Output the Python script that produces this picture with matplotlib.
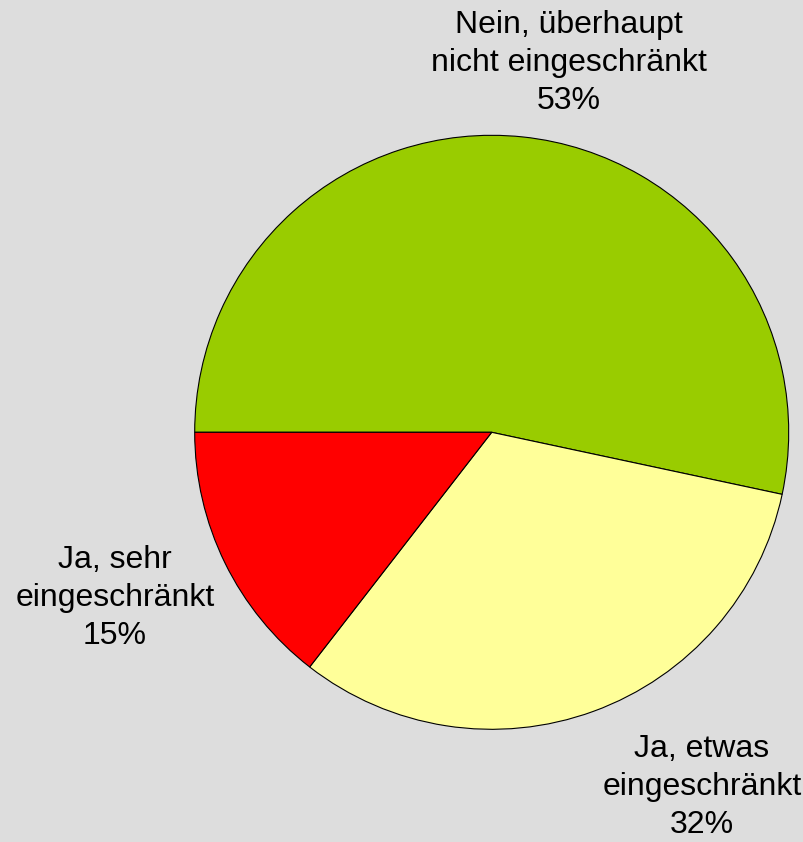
import matplotlib
matplotlib.use("Agg")
import matplotlib.pyplot as plt

categories = ["Nein, überhaupt\nnicht eingeschränkt", "Ja, etwas\neingeschränkt", "Ja, sehr\neingeschränkt"]
values = [53.35, 32.15, 14.5]
pct_labels = ["53%", "32%", "15%"]
colors = ["#99cc00", "#ffff99", "#ff0000"]

W, H = 804, 842
fig = plt.figure(figsize=(W / 100, H / 100), dpi=100)
fig.patch.set_facecolor("#dddddd")

cx, cy, r = 491.7, 432.3, 297
ax = fig.add_axes([(cx - r) / W, (H - cy - r) / H, 2 * r / W, 2 * r / H])
ax.pie(values, colors=colors, startangle=180, counterclock=False,
       wedgeprops=dict(edgecolor="black", linewidth=0.8))
ax.set_xlim(-1, 1)
ax.set_ylim(-1, 1)
ax.set_aspect("equal")
ax.axis("off")

label_pos = [(569, 63), (702, 787), (115, 598)]
for cat, p, (x, y) in zip(categories, pct_labels, label_pos):
    fig.text(x / W, 1 - y / H, f"{cat}\n{p}", ha="center", va="center",
             fontsize=23, family="Liberation Sans", linespacing=1.35, color="black")

fig.savefig("out.png", dpi=100, facecolor=fig.get_facecolor())
